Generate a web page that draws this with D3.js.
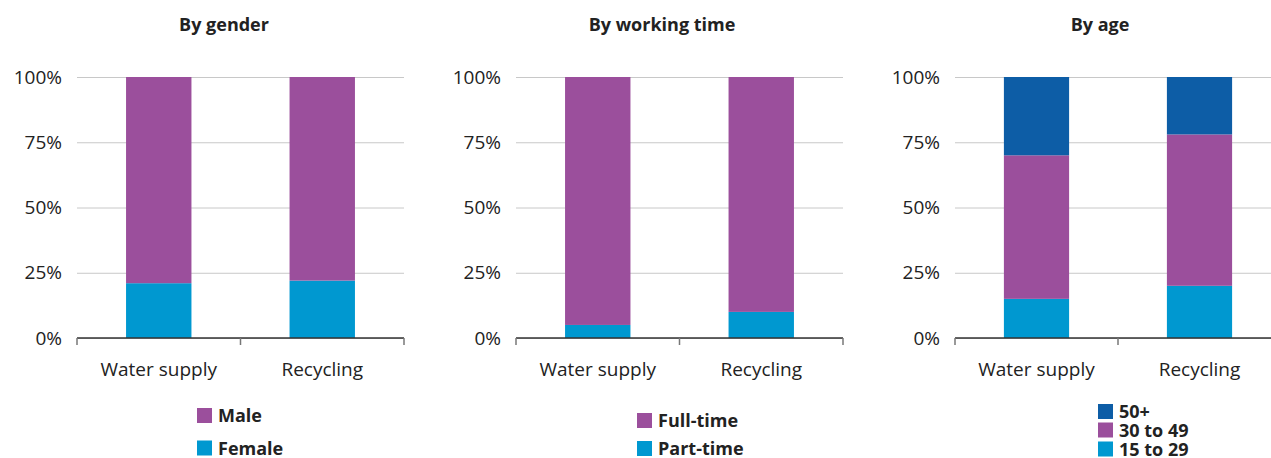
<!DOCTYPE html>
<html><head><meta charset="utf-8">
<script src="https://cdn.jsdelivr.net/npm/d3@7"></script>
<style>body{margin:0;background:#fff;}svg{display:block;font-family:"Open Sans",sans-serif;}</style>
</head><body><svg id="c" width="1271" height="458"></svg>
<script>
const categories = ["Water supply", "Recycling"];
const yTicks = [0, 25, 50, 75, 100];
const genderKeys = ["Female", "Male"];
const genderFemale = [21, 22];
const genderMale = [79, 78];
const timeKeys = ["Part-time", "Full-time"];
const timePart = [5, 10];
const timeFull = [95, 90];
const ageKeys = ["15 to 29", "30 to 49", "50+"];
const age15 = [15, 20];
const age30 = [55, 58];
const age50 = [30, 22];

const colors = {"Female":"#0098D0","Male":"#9B4F9C","Part-time":"#0098D0","Full-time":"#9B4F9C","15 to 29":"#0098D0","30 to 49":"#9B4F9C","50+":"#0D5DA6"};

const panels = [
  {title:"By gender", keys:genderKeys, series:[genderFemale, genderMale], x0:77, x1:404, titleX:224,
   legend:{x:197, ys:[440.5, 408], fs:18}},
  {title:"By working time", keys:timeKeys, series:[timePart, timeFull], x0:516, x1:843, titleX:662,
   legend:{x:637, ys:[441, 413], fs:18}},
  {title:"By age", keys:ageKeys, series:[age15, age30, age50], x0:955, x1:1281, titleX:1100,
   legend:{x:1098, ys:[441.5, 422.5, 404], fs:18}}
];

const svg = d3.select("#c");
const y = d3.scaleLinear().domain([0,100]).range([338,77]);

panels.forEach(p => {
  const g = svg.append("g");
  const x = d3.scaleBand().domain(categories).range([p.x0, p.x1]).paddingInner(0.6).paddingOuter(0.3);
  const xb = d3.scaleBand().domain(categories).range([p.x0, p.x1]);
  // title
  g.append("text").attr("x", p.titleX).attr("y", 31).attr("text-anchor","middle")
    .attr("font-weight","700").attr("font-size", 18).attr("fill","#222").text(p.title);
  // y axis
  const ya = g.append("g").attr("transform", `translate(${p.x0},0)`)
    .call(d3.axisLeft(y).tickValues(yTicks).tickSize(-(p.x1-p.x0)).tickFormat(d => d + "%").tickPadding(15));
  ya.select(".domain").remove();
  ya.selectAll(".tick line").attr("stroke","#c8c8c8").attr("stroke-width",1);
  ya.selectAll(".tick text").attr("font-size",19).attr("fill","#222").attr("font-family","'Open Sans',sans-serif");
  // stacks
  const rows = categories.map((c,i) => {const o={cat:c}; p.keys.forEach((k,j)=>o[k]=p.series[j][i]); return o;});
  const stack = d3.stack().keys(p.keys)(rows);
  stack.forEach(layer => {
    g.selectAll(null).data(layer).enter().append("rect")
      .attr("x", d => x(d.data.cat)).attr("width", x.bandwidth())
      .attr("y", d => y(d[1])).attr("height", d => y(d[0]) - y(d[1]))
      .attr("fill", colors[layer.key]);
  });
  // x axis
  const xa = g.append("g").attr("transform","translate(0,338)")
    .call(d3.axisBottom(xb).tickSize(0).tickPadding(25));
  xa.select(".domain").attr("stroke","#333").attr("stroke-width",1.5).attr("d", `M${p.x0},0H${p.x1}`);
  xa.selectAll(".tick text").attr("font-size",19).attr("fill","#222").attr("font-family","'Open Sans',sans-serif");
  const bounds = [p.x0].concat(categories.map(c => xb(c) + xb.bandwidth()));
  g.selectAll(null).data(bounds).enter().append("line")
    .attr("x1", d=>d).attr("x2", d=>d).attr("y1", 338).attr("y2", 345)
    .attr("stroke","#777").attr("stroke-width",1.5);
  // legend
  p.keys.forEach((k,j) => {
    const ly = p.legend.ys[j];
    g.append("rect").attr("x", p.legend.x).attr("y", ly).attr("width",15).attr("height",15).attr("fill", colors[k]);
    g.append("text").attr("x", p.legend.x + 21).attr("y", ly + 14).attr("font-weight","700")
      .attr("font-size",p.legend.fs).attr("fill","#222").text(k);
  });
});
</script></body></html>
